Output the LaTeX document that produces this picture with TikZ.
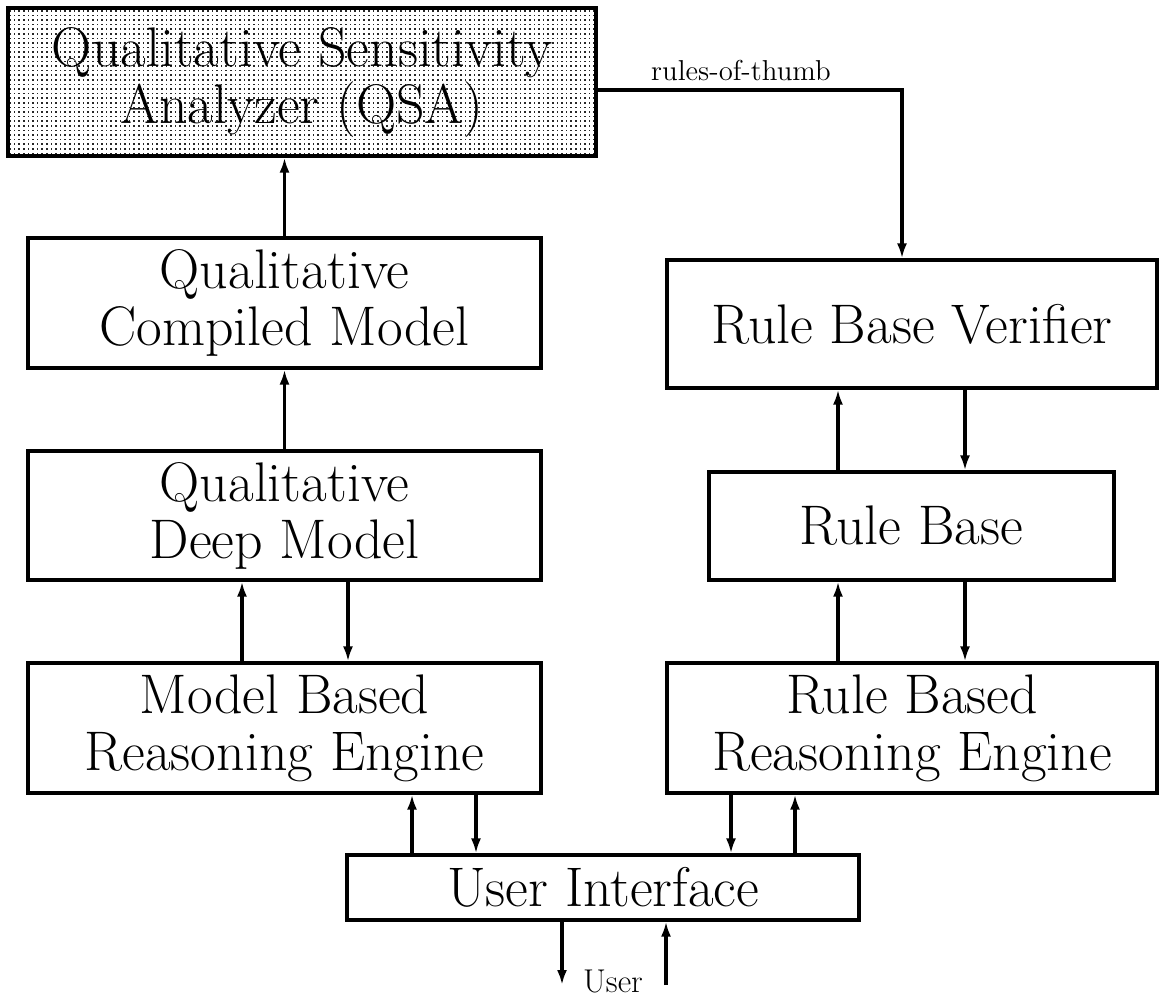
\documentclass[tikz,border=0pt]{standalone}
\usetikzlibrary{arrows.meta,patterns.meta}
\tikzdeclarepattern{
  name=finedots,
  type=uncolored,
  bottom left={(-.1pt,-.1pt)},
  top right={(2.3pt,2.3pt)},
  tile size={(2.3pt,2.3pt)},
  code={\fill (0,0) rectangle (0.75pt,0.75pt);}
}
\tikzset{
  box/.style={draw,line width=1.6pt,align=center,font=\fontsize{27.9}{28.5}\selectfont,inner sep=0pt},
  lbl/.style={inner sep=0pt},
  >={Latex[length=7.5pt,width=5pt]}
}
\begin{document}
\begin{tikzpicture}[x=0.5pt,y=-0.5pt,line width=1.6pt]
      \useasboundingbox (0,0) rectangle (1160,996);

      \node[box,pattern=finedots,pattern color=black!85,minimum width=294pt,minimum height=74pt] (A) at (302,82) {Qualitative Sensitivity\\Analyzer (QSA)};

      \node[box,minimum width=256.5pt,minimum height=65pt] (B) at (284.5,303) {Qualitative\\Compiled Model};
      \node[box,minimum width=256.5pt,minimum height=64.5pt] (C) at (284.5,515.5) {Qualitative\\Deep Model};
      \node[box,minimum width=256.5pt,minimum height=65pt] (D) at (284.5,728) {Model Based\\Reasoning Engine};

      \node[box,minimum width=245pt,minimum height=64pt] (E) at (912,324) {Rule Base Verifier};
      \node[box,minimum width=202.5pt,minimum height=54pt] (F) at (911.5,526) {Rule Base};
      \node[box,minimum width=245pt,minimum height=65pt] (G) at (912,728) {Rule Based\\Reasoning Engine};

      \node[box,minimum width=256pt,minimum height=32.5pt] (H) at (603,887.5) {User Interface};

      \node[lbl,font=\Large] (L) at (741,71) {rules-of-thumb};
      \node[lbl,font=\fontsize{16.5}{19}\selectfont] (M) at (613,981) {User};
      \coordinate (U1) at (562,985);
      \coordinate (U2) at (666,985);

      \draw[->] (B.north) -- (B.north |- A.south);
      \draw[->] (C) -- (B);
      \draw[->] (D.north -| 242,0) -- (C.south -| 242,0);
      \draw[->] (C.south -| 348,0) -- (D.north -| 348,0);
      \draw[->] (H.north -| 412,0) -- (D.south -| 412,0);
      \draw[->] (D.south -| 476,0) -- (H.north -| 476,0);
      \draw[->] (G.south -| 731,0) -- (H.north -| 731,0);
      \draw[->] (H.north -| 795,0) -- (G.south -| 795,0);
      \draw[->] (G.north -| 838,0) -- (F.south -| 838,0);
      \draw[->] (F.south -| 965,0) -- (G.north -| 965,0);
      \draw[->] (F.north -| 838,0) -- (E.south -| 838,0);
      \draw[->] (E.south -| 965,0) -- (F.north -| 965,0);
      \draw[->] (A.east |- 0,90) -| (E.north -| 902,0);
      \draw[->] (H.south -| U1) -- (U1);
      \draw[->] (U2) -- (H.south -| U2);
    \end{tikzpicture}
\end{document}
